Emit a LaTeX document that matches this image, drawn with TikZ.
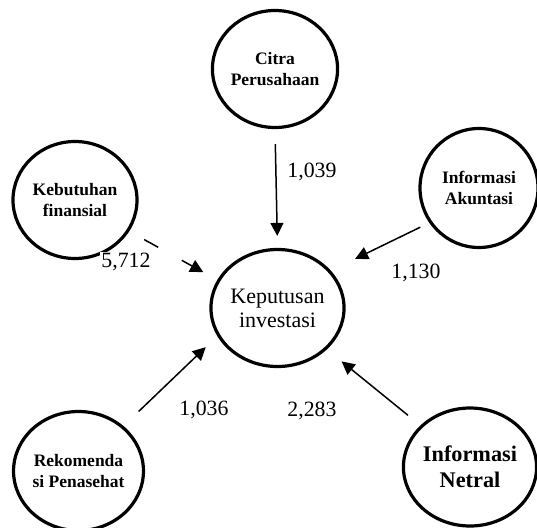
\documentclass[tikz,border=0pt]{standalone}
\usepackage{fontspec}
\setmainfont{Liberation Serif}
\usetikzlibrary{shapes.geometric,arrows.meta,calc}

\tikzset{
  var/.style={ellipse, draw, line width=3.2pt, minimum width=124pt, minimum height=117pt,
    align=center, inner sep=0pt, font=\bfseries\fontsize{17.5}{21.5}\selectfont},
  arr/.style={line width=1.5pt, -{Triangle[length=13pt,width=13pt]}},
  num/.style={fill=white, inner sep=1pt, font=\fontsize{21.8}{24}\selectfont}
}

\begin{document}
\begin{tikzpicture}[x=1pt,y=-1pt]
    \useasboundingbox (0,0) rectangle (537,527);

    \node[var] (cp) at (275,69) {Citra\\Perusahaan};
    \node[var] (kf) at (75,200) {Kebutuhan\\finansial};
    \node[var, minimum width=118pt, minimum height=119pt] (ia) at (479,188) {Informasi\\Akuntasi};
    \node[var, font=\fontsize{22}{24}\selectfont, minimum width=125pt] (ki) at (277.5,308) {Keputusan\\investasi};
    \node[var, minimum width=127pt, minimum height=119pt] (rp) at (78.5,471) {Rekomenda\\si Penasehat};
    \node[var, minimum width=126pt, minimum height=118pt, font=\bfseries\fontsize{22.3}{26}\selectfont] (in) at (470,467) {Informasi\\Netral};

    \draw[arr, shorten <=15pt, shorten >=12pt] (cp.south) -- (ki.north);
    \draw[arr, shorten <=10pt, shorten >=27pt] (ia.215) -- (ki.35);
    \draw[arr, shorten <=21pt, shorten >=16pt] (rp.45) -- (ki.205);
    \draw[arr, shorten <=16pt, shorten >=19pt] (in.140) -- (ki.320);

    % broken line from Kebutuhan finansial
    \draw[line width=1.5pt] ($(kf.330)!17pt!(ki.155)$) -- ($(kf.330)!33pt!(ki.155)$);
    \draw[arr] ($(kf.330)!60pt!(ki.155)$) -- ($(ki.155)!16pt!(kf.330)$);

    \node[num] (w1) at (312,172) {1,039};
    \node[num] (w2) at (126,262) {5,712};
    \node[num] (w3) at (416,273) {1,130};
    \node[num] (w4) at (204,410) {1,036};
    \node[num] (w5) at (312,411) {2,283};
\end{tikzpicture}
\end{document}
